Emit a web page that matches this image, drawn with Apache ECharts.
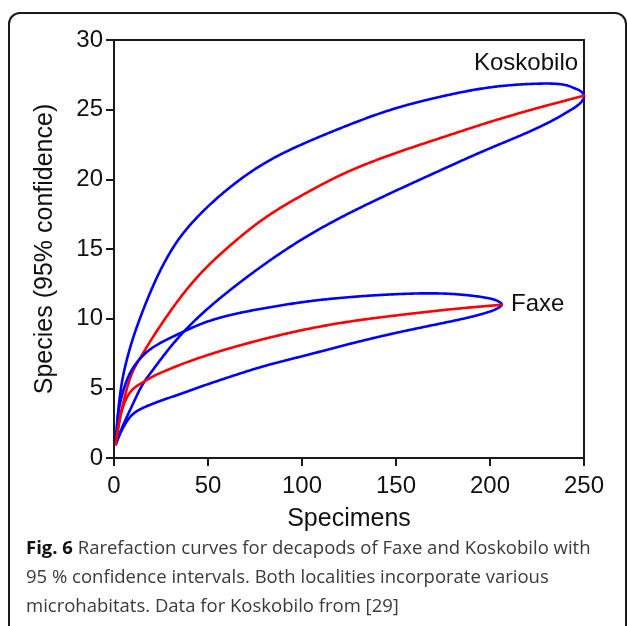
<!DOCTYPE html>
<html>
<head>
<meta charset="utf-8">
<script src="https://cdn.jsdelivr.net/npm/echarts@6/dist/echarts.min.js"></script>
<style>
html,body{margin:0;padding:0;background:#fff;}
#chart{width:627px;height:626px;}
</style>
</head>
<body>
<div id="chart"></div>
<script>
// Axis ticks
const xTicks = [0, 50, 100, 150, 200, 250];
const yTicks = [0, 5, 10, 15, 20, 25, 30];

// Koskobilo: upper 95% bound, mean rarefaction curve, lower 95% bound  [specimens, species]
const kosUpper = [[1,1],[2,3.0],[3.2,4.5],[5,6.0],[7.1,7.2],[10,8.55],[12.4,9.5],[17.8,11.4],[26.7,14.0],[35.5,15.9],[44.4,17.3],[62.2,19.48],[80,21.15],[101.3,22.59],[120.5,23.67],[147,24.98],[174,25.94],[200,26.6],[213,26.78],[227,26.87],[237.8,26.82],[241.5,26.72],[244.9,26.54],[248.5,26.3],[250,26]];
const kosMean  = [[1,1],[2,1.9],[3.2,2.9],[5,4.0],[7,5.05],[10.3,6.3],[14,7.2],[17.8,8.05],[26.7,9.9],[35.5,11.55],[44.4,13.0],[62.2,15.3],[80,17.2],[101.3,18.95],[120.5,20.3],[147,21.75],[174,22.98],[200,24.12],[227,25.18],[250,26]];
const kosLower = [[1,1],[3,1.75],[5,2.4],[7,3.0],[10.3,3.95],[15.6,5.36],[20,6.2],[26.7,7.4],[37,9.05],[44.4,10.05],[62.2,12.1],[80,13.9],[101.3,15.8],[120.5,17.25],[147,19.0],[174,20.67],[200,22.23],[227,23.8],[237,24.5],[243,24.98],[247,25.35],[249,25.62],[250,26]];

// Faxe
const faxUpper = [[1,1],[2,2.9],[3.5,4.1],[5,4.85],[7.5,5.8],[10.3,6.5],[14,7.15],[17.8,7.65],[26.7,8.4],[37,9.07],[45,9.55],[62.2,10.27],[80,10.75],[101,11.2],[125.7,11.55],[152.4,11.77],[179,11.78],[193.2,11.6],[202.1,11.37],[205.3,11.17],[206.3,11.0]];
const faxMean  = [[1,1],[2.3,2.25],[4,3.3],[6,4.1],[8.5,4.7],[11,5.05],[15.6,5.45],[20,5.8],[26.7,6.22],[35,6.68],[45,7.17],[62.2,7.9],[80,8.55],[99.1,9.15],[125.7,9.8],[152.4,10.27],[179,10.67],[206.3,11.0]];
const faxLower = [[1,1],[2.5,1.5],[4,1.95],[6,2.45],[8,2.85],[10.5,3.2],[14,3.5],[18,3.75],[22.7,4.0],[30,4.35],[40.5,4.85],[50,5.3],[62.2,5.85],[80,6.6],[100,7.3],[125.7,8.2],[152.4,9.05],[179,9.8],[196.9,10.38],[204,10.74],[205.9,10.92],[206.3,11.0]];

const localityNames = ['Koskobilo', 'Faxe'];
const xTitle = 'Specimens';
const yTitle = 'Species (95% confidence)';
const captionLines = [
  ['Fig. 6', ' Rarefaction curves for decapods of Faxe and Koskobilo with'],
  ['', '95 % confidence intervals. Both localities incorporate various'],
  ['', 'microhabitats. Data for Koskobilo from [29]']
];

function loop(upper, lower) {
  // upper bound out to the end point, then lower bound back to the start
  return upper.concat(lower.slice(0, -1).reverse());
}

// natural cubic spline second derivatives
function splineM(ts, vs) {
  const n = ts.length, M = new Array(n).fill(0);
  if (n < 3) return M;
  const cp = new Array(n).fill(0), dp = new Array(n).fill(0);
  for (let i = 1; i < n - 1; i++) {
    const h0 = ts[i] - ts[i - 1], h1 = ts[i + 1] - ts[i];
    const a = h0, b = 2 * (h0 + h1), c = h1;
    const d = 6 * ((vs[i + 1] - vs[i]) / h1 - (vs[i] - vs[i - 1]) / h0);
    const den = b - a * cp[i - 1];
    cp[i] = c / den;
    dp[i] = (d - a * dp[i - 1]) / den;
  }
  for (let i = n - 2; i >= 1; i--) M[i] = dp[i] - cp[i] * M[i + 1];
  return M;
}

// smooth curve through pixel points (chord-length parametrised natural spline)
function smoothThrough(pts) {
  const ts = [0];
  for (let i = 1; i < pts.length; i++) {
    const dx = pts[i][0] - pts[i - 1][0], dy = pts[i][1] - pts[i - 1][1];
    ts.push(ts[i - 1] + Math.max(Math.sqrt(dx * dx + dy * dy), 1e-3));
  }
  const xs = pts.map(p => p[0]), ys = pts.map(p => p[1]);
  const Mx = splineM(ts, xs), My = splineM(ts, ys);
  const out = [pts[0].slice()];
  for (let i = 0; i < pts.length - 1; i++) {
    const h = ts[i + 1] - ts[i];
    const steps = Math.max(2, Math.ceil(h / 1.5));
    for (let s = 1; s <= steps; s++) {
      const B = s / steps, A = 1 - B;
      const k = h * h / 6;
      out.push([
        A * xs[i] + B * xs[i + 1] + ((A * A * A - A) * Mx[i] + (B * B * B - B) * Mx[i + 1]) * k,
        A * ys[i] + B * ys[i + 1] + ((A * A * A - A) * My[i] + (B * B * B - B) * My[i + 1]) * k
      ]);
    }
  }
  return out;
}

function curveSeries(name, data, color) {
  return {
    type: 'custom', name: name, coordinateSystem: 'cartesian2d', silent: true, z: 3,
    data: [data[0]],
    renderItem: function (params, api) {
      const px = data.map(p => api.coord(p));
      return {
        type: 'polyline',
        shape: {points: smoothThrough(px)},
        style: {stroke: color, lineWidth: 2.6, fill: null, lineJoin: 'round', lineCap: 'round'}
      };
    }
  };
}

const chart = echarts.init(document.getElementById('chart'), null, {renderer: 'canvas'});
const AX = '#1a1a1a';
const FONT = '"Liberation Sans", Arial, sans-serif';

const captionText = captionLines.map(l => (l[0] ? '{b|' + l[0] + '}' : '') + l[1]).join('\n');

chart.setOption({
  animation: false,
  backgroundColor: '#fff',
  grid: {left: 114, right: 43, top: 40, bottom: 168, show: true, borderColor: AX, borderWidth: 2, backgroundColor: 'transparent'},
  xAxis: {
    type: 'value', min: xTicks[0], max: xTicks[xTicks.length - 1], interval: 50,
    name: xTitle, nameLocation: 'middle', nameGap: 49,
    nameTextStyle: {fontFamily: FONT, fontSize: 25, color: '#111'},
    axisLine: {show: true, lineStyle: {color: AX, width: 2}},
    axisTick: {show: true, length: 8, lineStyle: {color: AX, width: 2}},
    axisLabel: {fontFamily: FONT, fontSize: 24, color: '#111', margin: 16},
    splitLine: {show: false}
  },
  yAxis: {
    type: 'value', min: yTicks[0], max: yTicks[yTicks.length - 1], interval: 5,
    name: yTitle, nameLocation: 'middle', nameGap: 56,
    nameTextStyle: {fontFamily: FONT, fontSize: 25, color: '#111'},
    axisLine: {show: true, lineStyle: {color: AX, width: 2}},
    axisTick: {show: true, length: 8, lineStyle: {color: AX, width: 2}},
    axisLabel: {fontFamily: FONT, fontSize: 24, color: '#111', margin: 11},
    splitLine: {show: false}
  },
  series: [
    curveSeries(localityNames[0] + ' CI', loop(kosUpper, kosLower), '#0000ff'),
    curveSeries(localityNames[0], kosMean, '#ff0000'),
    curveSeries(localityNames[1] + ' CI', loop(faxUpper, faxLower), '#0000ff'),
    curveSeries(localityNames[1], faxMean, '#ff0000')
  ],
  graphic: [
    {type: 'rect', shape: {x: 9, y: 13, width: 617, height: 640, r: 11}, style: {fill: 'none', stroke: AX, lineWidth: 2}, z: 0, silent: true},
    {type: 'text', left: 474, top: 51, style: {text: localityNames[0], font: '24px ' + FONT, fill: '#111'}, z: 10},
    {type: 'text', left: 511, top: 292, style: {text: localityNames[1], font: '24px ' + FONT, fill: '#111'}, z: 10},
    {type: 'text', left: 26, top: 534, z: 10, style: {
      text: captionText,
      font: '18.5px "Open Sans", sans-serif',
      fill: '#3a3a3a', lineHeight: 29,
      rich: {b: {fontWeight: 'bold', fill: '#111', fontSize: 18.5, fontFamily: '"Open Sans", sans-serif', lineHeight: 29}}
    }}
  ]
});
</script>
</body>
</html>
